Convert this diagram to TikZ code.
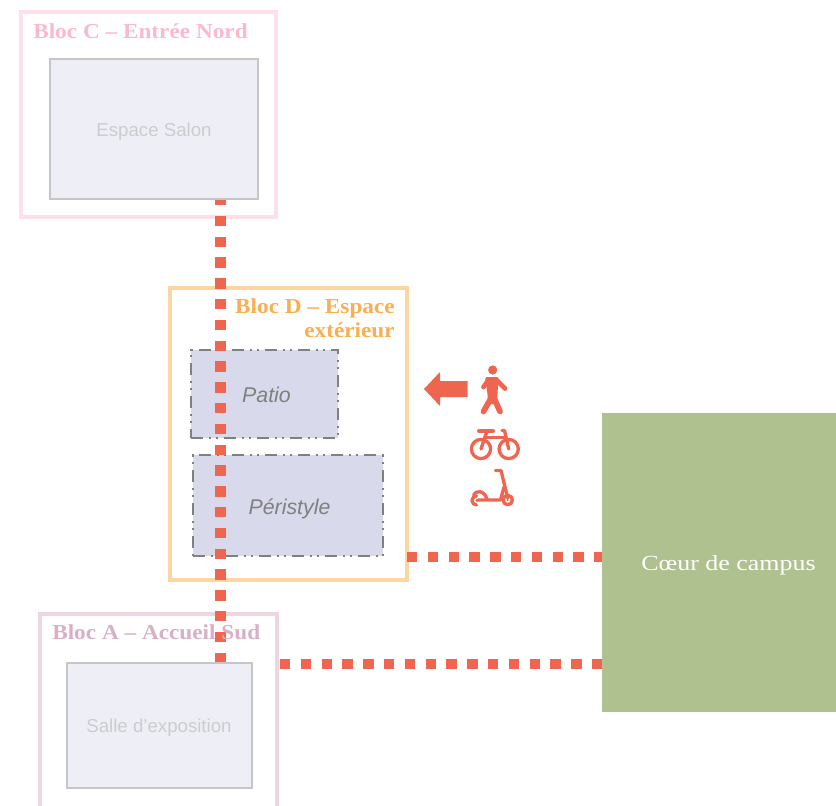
\documentclass[tikz,border=0pt]{standalone}
\usepackage{fontspec}
\setmainfont{Liberation Serif}
\setsansfont{Liberation Sans}
\newfontfamily\titlefont[FakeStretch=1.09]{Liberation Serif}
\newfontfamily\campusfont[FakeStretch=1.2]{Liberation Serif}
\definecolor{accent}{HTML}{EF6650}
\definecolor{roomfill}{HTML}{EEEEF6}
\definecolor{roomline}{HTML}{C6C6C8}
\definecolor{roomtext}{HTML}{CCCCCF}
\definecolor{outfill}{HTML}{D8D9EA}
\definecolor{outline}{HTML}{808080}
\definecolor{blocC}{HTML}{FCE1E9}
\definecolor{blocCt}{HTML}{F9BACB}
\definecolor{blocD}{HTML}{FCD6A0}
\definecolor{blocDt}{HTML}{F9AE52}
\definecolor{blocA}{HTML}{ECD6E2}
\definecolor{blocAt}{HTML}{D9AFC6}
\definecolor{campus}{HTML}{AEC18E}
\tikzset{
  x=0.75pt,y=-0.75pt,
  blocbox/.style={draw,line width=3pt,fill=none},
  room/.style={draw=roomline,fill=roomfill,line width=1.4pt,anchor=north west,inner sep=0pt,outer sep=0pt},
  roomlabel/.style={font=\sffamily\fontsize{14}{16}\selectfont,text=roomtext,inner sep=0pt},
  outdoor/.style={draw=outline,fill=outfill,line width=1.3pt,anchor=north west,inner sep=0pt,outer sep=0pt,dash pattern=on 9pt off 4.5pt on 1.5pt off 3.75pt on 1.5pt off 4.5pt},
  outlabel/.style={font=\sffamily\itshape\fontsize{16}{18}\selectfont,text=outline,inner sep=0pt},
  bloctitle/.style={font=\titlefont\bfseries\fontsize{16}{18.5}\selectfont,inner sep=0pt},
  link/.style={draw=accent,line width=8pt,dash pattern=on 7.8pt off 7.8pt},
  icon/.style={draw=accent,line width=2.5pt,line cap=round,line join=round,fill=none}
}
\begin{document}
\begin{tikzpicture}
\useasboundingbox (0,0) rectangle (836,806);
% block frames
\path[blocbox,draw=blocC] (21,12) rectangle (276,217);
\path[blocbox,draw=blocD] (170,288) rectangle (407,580);
\path[blocbox,draw=blocA] (39.5,806) -- (39.5,614) -- (276.5,614) -- (276.5,806);
% outdoor rooms
\node[outdoor,minimum width=147.6*0.75pt,minimum height=87.7*0.75pt] (patio) at (190.7,350) {};
\node[outdoor,minimum width=190*0.75pt,minimum height=100.7*0.75pt] (peri) at (192.7,455.3) {};
\coordinate (cA) at (220.5,663);
\coordinate (cC) at (220.5,198);
\node[anchor=north west,fill=campus,minimum width=234.5*0.75pt,minimum height=299*0.75pt,inner sep=0pt,outer sep=0pt] (coeur) at (601.5,413) {};
\coordinate (d1) at (407,557);
\coordinate (d2) at (601.5,557);
\coordinate (a1) at (280,664);
\coordinate (a2) at (601.5,664);
% links
\draw[link] (cA) -- (cC);
\draw[link] (d1) -- (d2);
\draw[link] (a1) -- (a2);
% indoor rooms
\node[room,minimum width=208.3*0.75pt,minimum height=140*0.75pt] (salon) at (50,59) {};
\node[room,minimum width=185*0.75pt,minimum height=125.3*0.75pt] (expo) at (66.7,662.7) {};
% labels
\node[roomlabel] at (154,132) {Espace Salon};
\node[roomlabel] at (159,728) {Salle d'exposition};
\node[outlabel] at (266.5,394.5) {Patio};
\node[outlabel] at (289.5,509) {Péristyle};
\node[font=\campusfont\fontsize{16.2}{19}\selectfont,text=white,inner sep=0pt] at (728.5,565) {Cœur de campus};
\node[bloctitle,text=blocCt,anchor=west] at (33,31) {Bloc C – Entrée Nord};
\node[bloctitle,text=blocDt,anchor=north east,align=right] at (395,298) {Bloc D – Espace\\extérieur};
\node[bloctitle,text=blocAt,anchor=west] at (52,632) {Bloc A – Accueil Sud};
% arrow
\fill[accent] (424,389) -- (440,372) -- (440,381) -- (467.5,381) -- (467.5,397) -- (440,397) -- (440,406) -- cycle;
% walker
\fill[accent] (492.7,370) circle (4.6);
\draw[icon,line width=3.6pt] (483.5,387) -- (489,379.5) (496,379.5) -- (505,388.5);
\fill[accent,rounded corners=1.5pt] (485,377) -- (498.5,377) -- (497.5,394) -- (497,404) -- (488,404) -- (487.5,394) -- cycle;
\draw[icon,line width=4.3pt] (490,400) -- (483.5,411.5);
\draw[icon,line width=4.3pt] (495,400) -- (500,411.5);
% bicycle
\draw[icon] (481,449) circle (9.6);
\draw[icon] (508.7,449) circle (9.6);
\draw[icon] (481,449) -- (487,431);
\draw[icon] (484.5,437.5) -- (505.5,437.5);
\draw[icon,line width=3pt] (479,431) -- (493,431);
\draw[icon] (502,430.5) -- (504.5,430.5) -- (508.7,449);
% scooter
\draw[icon] (507.7,500) circle (4.7);
\fill[accent] (507.7,500) circle (1.2);
\draw[icon] (476.5,496) arc[start angle=-90,delta angle=-180,radius=4.5];
\fill[accent] (477,500.5) circle (1.7);
\draw[icon] (473.5,495) .. controls (476,490) and (484,490) .. (487,499);
\draw[icon] (478,500) -- (500.5,500) -- (504,487);
\draw[icon] (495.5,470.5) -- (501,470.5) -- (507.7,498);
\end{tikzpicture}
\end{document}
